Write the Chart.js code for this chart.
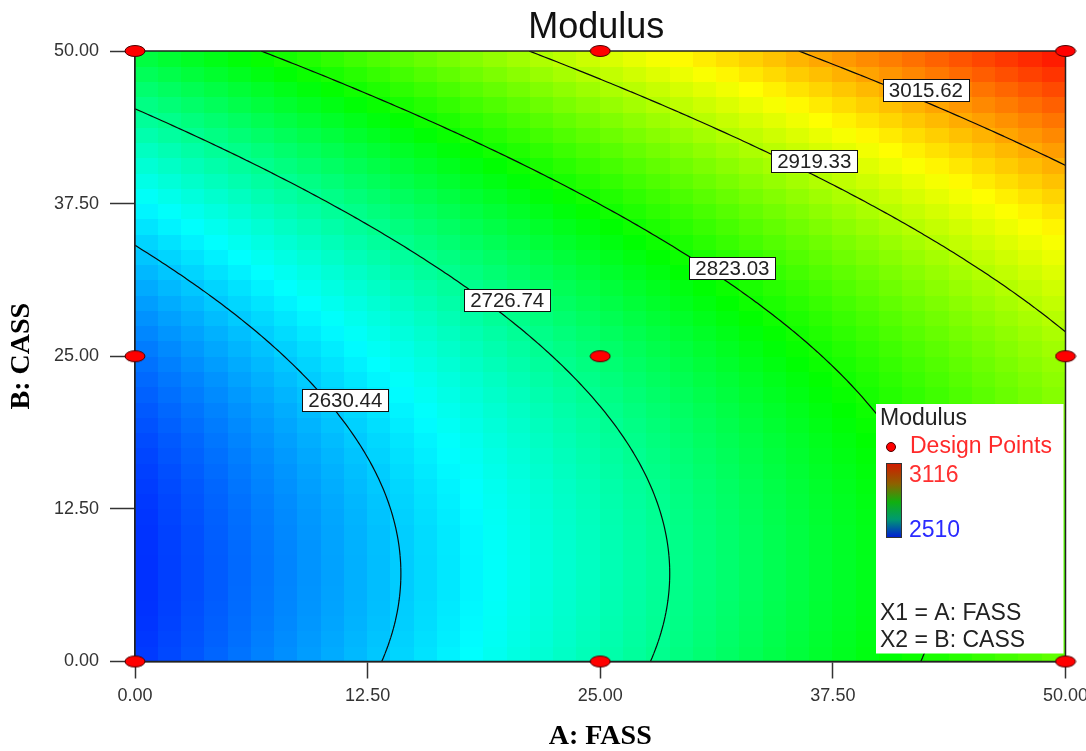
<!DOCTYPE html>
<html>
<head>
<meta charset="utf-8">
<title>Modulus</title>
<script src="https://cdn.jsdelivr.net/npm/chart.js@4.4.1/dist/chart.umd.min.js"></script>
<style>
  html, body { margin: 0; padding: 0; background: #fff; }
  #wrap { position: relative; width: 1086px; height: 751px; }
</style>
</head>
<body>
<div id="wrap"><canvas id="modulus"></canvas></div>
<script>
// factor settings, A: FASS and B: CASS
const axisTicks = [0, 12.5, 25, 37.5, 50];
const designA = [0, 25, 50, 0, 25, 50, 0, 25, 50];
const designB = [0, 0, 0, 25, 25, 25, 50, 50, 50];

// response surface in coded units: Intercept, A, B, AB, A^2, B^2
const modelTerms = ["Intercept", "A", "B", "AB", "A^2", "B^2"];
const modelCoef = [2743.9, 166.4, 118.0, 0.0, -0.9, 82.9];

// contour levels and where their labels sit (A, B)
const contourLevels = [2630.44, 2726.74, 2823.03, 2919.33, 3015.62];
const contourLabelA = [11.3, 20.0, 32.1, 36.5, 42.5];
const contourLabelB = [21.4, 29.6, 32.2, 41.0, 46.8];

// colour scale limits shown in the legend
const colorRange = [2510, 3116];

const ramp = [[0, 0, 255], [0, 255, 255], [0, 255, 0], [255, 255, 0], [255, 0, 0]];
const GRID_CELLS = 40;
const FONT = "'Liberation Sans', Arial, sans-serif";

function modulus(a, b) {
  const x = (a - 25) / 25, y = (b - 25) / 25;
  const t = [1, x, y, x * y, x * x, y * y];
  return t.reduce((s, v, i) => s + v * modelCoef[i], 0);
}

function rampColor(v) {
  let t = (v - colorRange[0]) / (colorRange[1] - colorRange[0]);
  t = Math.max(0, Math.min(1, t)) * (ramp.length - 1);
  const k = Math.min(Math.floor(t), ramp.length - 2);
  const f = t - k;
  const c = ramp[k].map((c0, n) => Math.round(c0 + (ramp[k + 1][n] - c0) * f));
  return `rgb(${c[0]},${c[1]},${c[2]})`;
}

// marching squares over the model, returns segments in data units
function contourSegments(level, n) {
  const h = 50 / n, v = [], segs = [];
  for (let i = 0; i <= n; i++) {
    v[i] = [];
    for (let j = 0; j <= n; j++) v[i][j] = modulus(i * h, j * h);
  }
  for (let i = 0; i < n; i++) {
    for (let j = 0; j < n; j++) {
      const c = [[i, j], [i + 1, j], [i + 1, j + 1], [i, j + 1]];
      const pts = [];
      for (let e = 0; e < 4; e++) {
        const p = c[e], q = c[(e + 1) % 4];
        const va = v[p[0]][p[1]] - level, vb = v[q[0]][q[1]] - level;
        if ((va < 0) !== (vb < 0)) {
          const f = va / (va - vb);
          pts.push([(p[0] + (q[0] - p[0]) * f) * h, (p[1] + (q[1] - p[1]) * f) * h]);
        }
      }
      if (pts.length >= 2) segs.push([pts[0], pts[1]]);
      if (pts.length === 4) segs.push([pts[2], pts[3]]);
    }
  }
  return segs;
}

// design point marker, a small red ellipse
const dot = document.createElement("canvas");
dot.width = 22;
dot.height = 14;
(function () {
  const d = dot.getContext("2d");
  d.beginPath();
  d.ellipse(11, 7, 10, 5.5, 0, 0, Math.PI * 2);
  d.fillStyle = "#ff0000";
  d.fill();
  d.lineWidth = 1;
  d.strokeStyle = "#4a0000";
  d.stroke();
})();

const surfacePlugin = {
  id: "surface",
  beforeDatasetsDraw(chart) {
    const { ctx, chartArea: area, scales: { x, y } } = chart;
    const step = 50 / GRID_CELLS;
    ctx.save();

    // coloured cells
    for (let i = 0; i < GRID_CELLS; i++) {
      for (let j = 0; j < GRID_CELLS; j++) {
        const a0 = i * step, b0 = j * step;
        const px0 = Math.floor(x.getPixelForValue(a0));
        const px1 = Math.ceil(x.getPixelForValue(a0 + step));
        const py0 = Math.ceil(y.getPixelForValue(b0));
        const py1 = Math.floor(y.getPixelForValue(b0 + step));
        ctx.fillStyle = rampColor(modulus(a0 + step / 2, b0 + step / 2));
        ctx.fillRect(px0, py1, px1 - px0, py0 - py1);
      }
    }

    // contour lines
    ctx.beginPath();
    ctx.rect(area.left, area.top, area.right - area.left, area.bottom - area.top);
    ctx.clip();
    ctx.strokeStyle = "#0a0a0a";
    ctx.lineWidth = 1.2;
    contourLevels.forEach(level => {
      ctx.beginPath();
      contourSegments(level, 150).forEach(([p, q]) => {
        ctx.moveTo(x.getPixelForValue(p[0]), y.getPixelForValue(p[1]));
        ctx.lineTo(x.getPixelForValue(q[0]), y.getPixelForValue(q[1]));
      });
      ctx.stroke();
    });

    // contour labels
    ctx.font = `20.5px ${FONT}`;
    ctx.textAlign = "center";
    ctx.textBaseline = "middle";
    ctx.lineWidth = 1;
    contourLevels.forEach((level, k) => {
      const cx = x.getPixelForValue(contourLabelA[k]);
      const cy = y.getPixelForValue(contourLabelB[k]);
      const text = level.toFixed(2);
      const w = Math.round(ctx.measureText(text).width + 12), h = 22;
      const bx = Math.round(cx - w / 2) + 0.5, by = Math.round(cy - h / 2) + 0.5;
      ctx.fillStyle = "#fff";
      ctx.fillRect(bx, by, w, h);
      ctx.strokeStyle = "#111";
      ctx.strokeRect(bx, by, w, h);
      ctx.fillStyle = "#222";
      ctx.fillText(text, cx, cy + 1);
    });
    ctx.restore();

    // frame round the plot
    ctx.save();
    ctx.strokeStyle = "#222";
    ctx.lineWidth = 1.5;
    ctx.strokeRect(area.left, area.top, area.right - area.left, area.bottom - area.top);

    // legend box
    const L = area.right - 189.5, T = area.bottom - 257.5;
    ctx.fillStyle = "#fff";
    ctx.fillRect(L, T, 187.5, 249.5);
    ctx.font = `23px ${FONT}`;
    ctx.textAlign = "left";
    ctx.textBaseline = "alphabetic";
    ctx.fillStyle = "#222";
    ctx.fillText("Modulus", L + 4, T + 21);
    ctx.beginPath();
    ctx.arc(L + 15, T + 43, 4.5, 0, Math.PI * 2);
    ctx.fillStyle = "#ff0000";
    ctx.fill();
    ctx.strokeStyle = "#4a0000";
    ctx.lineWidth = 1;
    ctx.stroke();
    ctx.fillStyle = "#ff2a2a";
    ctx.fillText("Design Points", L + 34, T + 49);

    const g = ctx.createLinearGradient(0, T + 59, 0, T + 134);
    g.addColorStop(0, "#d41800");
    g.addColorStop(0.28, "#8c6200");
    g.addColorStop(0.52, "#10b010");
    g.addColorStop(0.75, "#009a70");
    g.addColorStop(1, "#0018d8");
    ctx.fillStyle = g;
    ctx.fillRect(L + 10, T + 59, 16, 75);
    ctx.strokeStyle = "#333";
    ctx.strokeRect(L + 10.5, T + 59.5, 15, 74);

    ctx.fillStyle = "#ff3030";
    ctx.fillText(String(colorRange[1]), L + 33, T + 78);
    ctx.fillStyle = "#2a2aff";
    ctx.fillText(String(colorRange[0]), L + 33, T + 133);
    ctx.fillStyle = "#222";
    ctx.fillText("X1 = A: FASS", L + 4, T + 216);
    ctx.fillText("X2 = B: CASS", L + 4, T + 243);

    // chart title
    ctx.font = `36px ${FONT}`;
    ctx.textAlign = "center";
    ctx.fillStyle = "#111";
    ctx.fillText("Modulus", (area.left + area.right) / 2 - 4, 38);
    ctx.restore();
  }
};

const axisTitleFont = { family: "'Liberation Serif', 'Times New Roman', serif", size: 28, weight: "bold", lineHeight: 1 };
const tickFont = { family: FONT, size: 18 };

new Chart(document.getElementById("modulus"), {
  type: "scatter",
  data: {
    datasets: [{
      label: "Design Points",
      data: designA.map((a, i) => ({ x: a, y: designB[i] })),
      pointStyle: dot,
      clip: false
    }]
  },
  options: {
    responsive: true,
    maintainAspectRatio: false,
    animation: false,
    events: [],
    layout: { autoPadding: false, padding: { top: 51, right: 20.5, left: 0, bottom: 0 } },
    plugins: { legend: { display: false }, title: { display: false }, tooltip: { enabled: false } },
    scales: {
      x: {
        type: "linear", min: axisTicks[0], max: axisTicks[axisTicks.length - 1],
        afterBuildTicks: s => { s.ticks = axisTicks.map(v => ({ value: v })); },
        afterFit: s => { s.height = 89.5; s.paddingLeft = 0; s.paddingRight = 0; },
        ticks: { font: tickFont, color: "#333", padding: 6.5, callback: v => v.toFixed(2), maxRotation: 0 },
        grid: { drawOnChartArea: false, drawTicks: true, tickLength: 17, tickColor: "#333", tickWidth: 1.5 },
        border: { display: true, color: "#222", width: 1.5 },
        title: { display: true, text: "A: FASS", font: axisTitleFont, color: "#000", padding: { top: 0, bottom: 0 } }
      },
      y: {
        type: "linear", min: axisTicks[0], max: axisTicks[axisTicks.length - 1],
        afterBuildTicks: s => { s.ticks = axisTicks.map(v => ({ value: v })); },
        afterFit: s => { s.width = 135; s.paddingTop = 0; s.paddingBottom = 0; },
        ticks: { font: tickFont, color: "#333", padding: 11, callback: v => v.toFixed(2) },
        grid: { drawOnChartArea: false, drawTicks: true, tickLength: 25, tickColor: "#333", tickWidth: 1.5 },
        border: { display: true, color: "#222", width: 1.5 },
        title: { display: true, text: "B: CASS", font: axisTitleFont, color: "#000", padding: { top: 8, bottom: 0 } }
      }
    }
  },
  plugins: [surfacePlugin]
});
</script>
</body>
</html>
